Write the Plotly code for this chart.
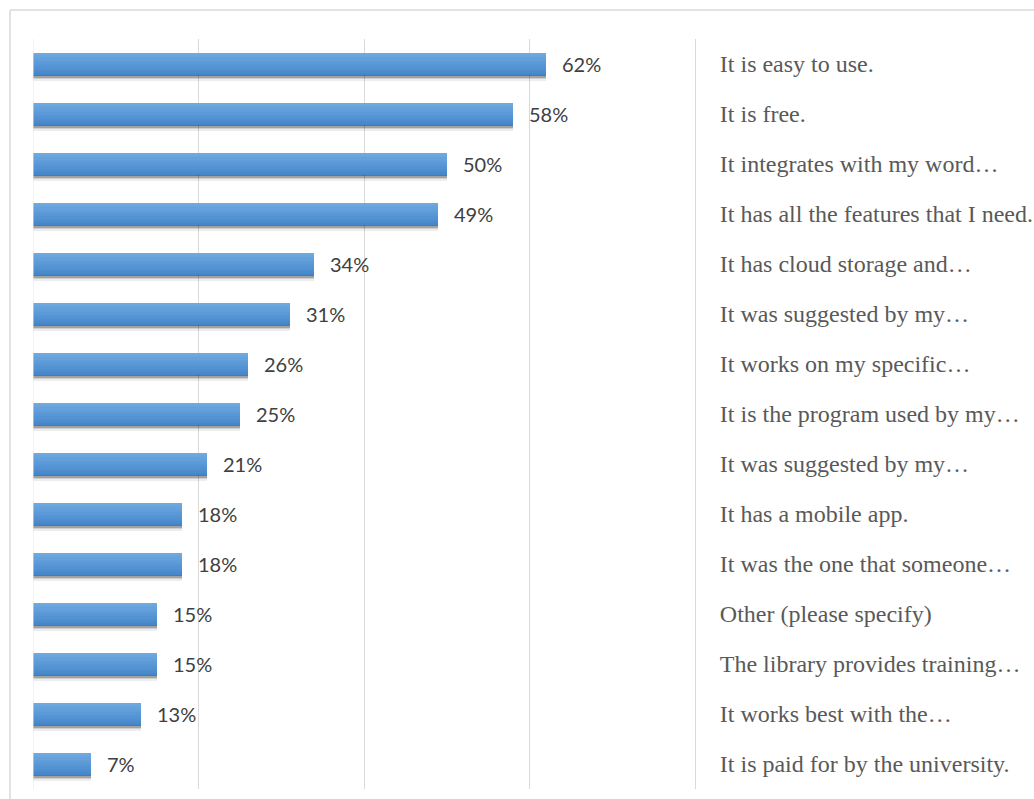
import plotly.graph_objects as go

# Survey responses: reasons for choosing a citation manager (share of respondents, %)
reasons = [
    "It is easy to use.",
    "It is free.",
    "It integrates with my word…",
    "It has all the features that I need.",
    "It has cloud storage and…",
    "It was suggested by my…",
    "It works on my specific…",
    "It is the program used by my…",
    "It was suggested by my…",
    "It has a mobile app.",
    "It was the one that someone…",
    "Other (please specify)",
    "The library provides training…",
    "It works best with the…",
    "It is paid for by the university.",
]
percent = [62, 58, 50, 49, 34, 31, 26, 25, 21, 18, 18, 15, 15, 13, 7]
x_ticks = [0, 20, 40, 60, 80]

positions = list(range(len(reasons)))

W, H = 1034, 799
M_L, M_R, M_T, M_B = 33, 339, 39, 10
GRID = "#d9d9d9"

fig = go.Figure()

BAR_W = 0.45
# soft drop shadow beneath each bar (stacked translucent layers)
for shift, alpha in [(0.11, 0.07), (0.075, 0.12), (0.045, 0.22), (0.02, 0.30)]:
    fig.add_trace(go.Bar(
        x=percent, y=positions, orientation="h",
        width=BAR_W, offset=-BAR_W / 2 + shift,
        marker=dict(color=f"rgba(0,0,0,{alpha})", line=dict(width=0)),
        hoverinfo="skip", showlegend=False,
    ))

# vertical gradient: lighter blue on top, deeper blue at the bottom
top_rgb = (110, 169, 224)
bot_rgb = (70, 135, 204)
N = 10
step = BAR_W / N
for i in range(N):
    t = i / (N - 1)
    c = tuple(round(a + (b - a) * t) for a, b in zip(top_rgb, bot_rgb))
    fig.add_trace(go.Bar(
        x=percent, y=positions, orientation="h",
        width=step * 1.15 if i < N - 1 else step,
        offset=-BAR_W / 2 + i * step,
        marker=dict(color=f"rgb{c}", line=dict(width=0)),
        hoverinfo="skip", showlegend=False,
    ))

# value labels to the right of each bar
for p, v in zip(positions, percent):
    fig.add_annotation(
        x=v, y=p, xref="x", yref="y", text=f"{v}%",
        showarrow=False, xanchor="left", yanchor="middle", xshift=14,
        font=dict(family="Lato, Open Sans, sans-serif", size=20, color="#404040"),
    )

# light frame around the chart
pw = W - M_L - M_R
ph = H - M_T - M_B
fx0 = (10 - M_L) / pw
fy1 = (H - M_B - 10) / ph
fig.add_shape(type="line", xref="paper", yref="paper",
              x0=fx0, x1=fx0, y0=-0.1, y1=fy1, line=dict(color=GRID, width=1.5))
fig.add_shape(type="line", xref="paper", yref="paper",
              x0=fx0, x1=1.6, y0=fy1, y1=fy1, line=dict(color=GRID, width=1.5))
# zero line shows through the left end of the bars
fig.add_shape(type="line", xref="x", yref="paper", x0=0, x1=0, y0=0, y1=1,
              layer="above", line=dict(color="#e6e6e6", width=1))

fig.update_layout(
    width=W, height=H,
    margin=dict(l=M_L, r=M_R, t=M_T, b=M_B, pad=0, autoexpand=False),
    paper_bgcolor="white", plot_bgcolor="white",
    barmode="overlay", bargap=0,
    xaxis=dict(
        range=[0, 80], tickvals=x_ticks, showticklabels=False,
        showgrid=True, gridcolor=GRID, gridwidth=1,
        zeroline=False, showline=False, fixedrange=True, automargin=False,
    ),
    yaxis=dict(
        side="right", range=[len(reasons) - 0.5, -0.5],
        tickvals=positions, ticktext=reasons, ticks="",
        ticklabelstandoff=19, automargin=False,
        showgrid=False, zeroline=False,
        showline=True, linecolor=GRID, linewidth=1,
        tickfont=dict(family="Liberation Serif, Times New Roman, serif", size=24, color="#595959"),
        fixedrange=True,
    ),
)

fig.write_html("out.html")
